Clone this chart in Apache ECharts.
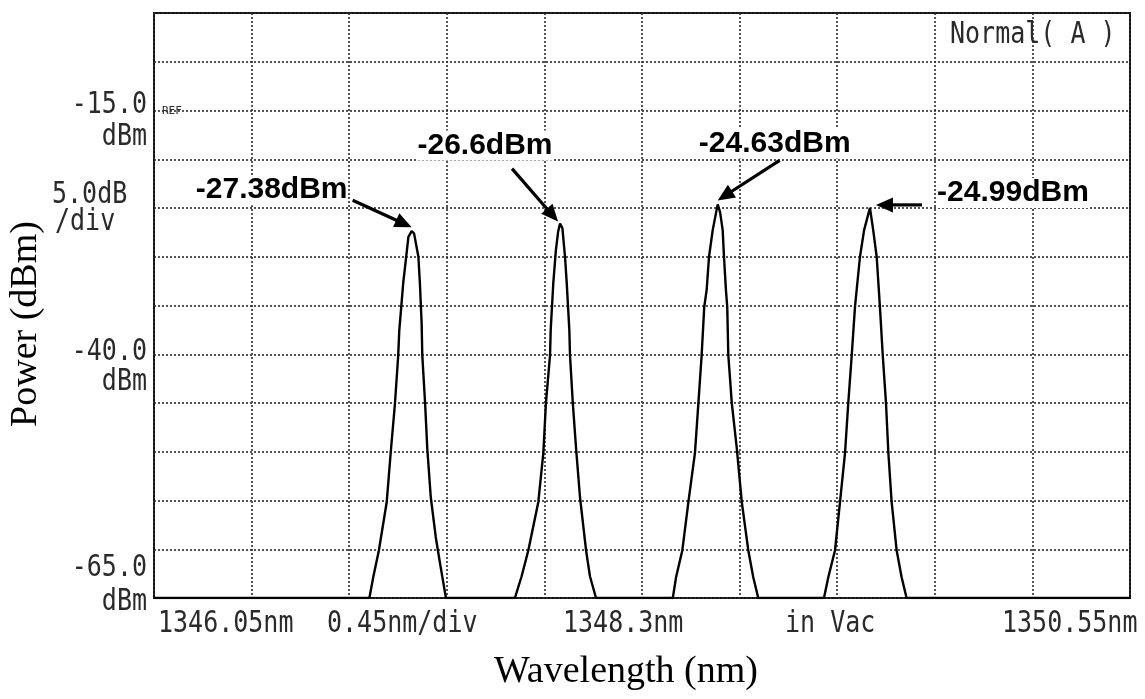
<!DOCTYPE html>
<html>
<head>
<meta charset="utf-8">
<script src="https://cdn.jsdelivr.net/npm/echarts@6/dist/echarts.min.js"></script>
<style>
  html, body { margin: 0; padding: 0; background: #fff; }
  #chart { width: 1145px; height: 699px; }
</style>
</head>
<body>
<div id="chart"></div>
<script>
// Span of the spectrum sweep (nm) and power scale (dBm)
const wavelengthStart = 1346.05;
const wavelengthStop = 1350.55;
const wavelengthStep = 0.45;
const powerTop = -5;
const powerBottom = -65;
const powerStep = 5;

// Four laser lines, sampled along each flank
const peak1Wavelength = [1347.043, 1347.061, 1347.087, 1347.123, 1347.141, 1347.161, 1347.176, 1347.181, 1347.190, 1347.199, 1347.211, 1347.223, 1347.238, 1347.249, 1347.269, 1347.276, 1347.284, 1347.287, 1347.300, 1347.310, 1347.326, 1347.349, 1347.369, 1347.396];
const peak1Power = [-65, -62.85, -60.1, -55.15, -50.18, -45.05, -40.1, -37.53, -35.14, -32.71, -30.35, -27.96, -27.38, -27.6, -30.0, -32.74, -36.84, -40.1, -45.05, -49.67, -54.64, -58.74, -61.47, -65];

const peak2Wavelength = [1347.714, 1347.745, 1347.776, 1347.822, 1347.845, 1347.857, 1347.876, 1347.879, 1347.891, 1347.903, 1347.913, 1347.922, 1347.933, 1347.945, 1347.953, 1347.965, 1347.968, 1347.981, 1347.996, 1348.014, 1348.042, 1348.060, 1348.088];
const peak2Power = [-65, -62.77, -60.1, -55.15, -50.15, -45.02, -40.1, -37.53, -32.71, -29.32, -27.47, -26.6, -27.06, -30.0, -32.71, -37.53, -40.1, -45.02, -49.64, -54.64, -60.1, -62.77, -65];

const peak3Wavelength = [1348.442, 1348.457, 1348.486, 1348.514, 1348.544, 1348.560, 1348.575, 1348.587, 1348.598, 1348.609, 1348.626, 1348.649, 1348.660, 1348.672, 1348.678, 1348.687, 1348.693, 1348.698, 1348.714, 1348.737, 1348.760, 1348.790, 1348.813, 1348.836];
const peak3Power = [-65, -62.88, -60.1, -55.15, -50.15, -45.02, -40.1, -35.14, -33.42, -30.0, -27.27, -24.63, -25.42, -27.27, -30.0, -33.42, -35.14, -40.1, -45.02, -49.64, -55.15, -60.1, -62.88, -65];

const peak4Wavelength = [1349.139, 1349.159, 1349.190, 1349.213, 1349.236, 1349.251, 1349.267, 1349.282, 1349.305, 1349.324, 1349.351, 1349.366, 1349.382, 1349.397, 1349.410, 1349.425, 1349.436, 1349.451, 1349.474, 1349.497, 1349.520];
const peak4Power = [-65, -62.88, -60.1, -55.15, -50.15, -45.02, -40.1, -35.14, -30.0, -27.27, -24.99, -27.27, -30.0, -35.14, -40.1, -45.02, -50.15, -55.15, -60.1, -62.88, -65];

// Marker readouts for each peak
const peakWavelength = [1347.238, 1347.922, 1348.649, 1349.351];
const peakPower = [-27.38, -26.6, -24.63, -24.99];

// Instrument screen text
const yScaleLabels = ['-15.0', 'dBm', '5.0dB', '/div', '-40.0', 'dBm', '-65.0', 'dBm'];
const xScaleLabels = ['1346.05nm', '0.45nm/div', '1348.3nm', 'in Vac', '1350.55nm'];
const modeLabel = 'Normal( A )';
const refLabel = 'REF';
const xTitle = 'Wavelength (nm)';
const yTitle = 'Power (dBm)';

// Build the full trace: noise floor at the edges, then each line
const trace = [[wavelengthStart, powerBottom]];
[[peak1Wavelength, peak1Power], [peak2Wavelength, peak2Power],
 [peak3Wavelength, peak3Power], [peak4Wavelength, peak4Power]].forEach(([w, p]) => {
  w.forEach((x, i) => trace.push([x, p[i]]));
});
trace.push([wavelengthStop, powerBottom]);

const chart = echarts.init(document.getElementById('chart'), null, { renderer: 'canvas' });

const gridLine = { show: true, lineStyle: { color: '#2b2b2b', width: 1.6, type: [2, 2] } };

chart.setOption({
  animation: false,
  backgroundColor: '#ffffff',
  grid: { left: 154, top: 13, width: 976, height: 585, show: true, borderColor: '#111', borderWidth: 2, backgroundColor: '#fff' },
  xAxis: {
    type: 'value', min: wavelengthStart, max: wavelengthStop, interval: wavelengthStep,
    axisLine: { show: false }, axisTick: { show: false }, axisLabel: { show: false },
    splitLine: gridLine
  },
  yAxis: {
    type: 'value', min: powerBottom, max: powerTop, interval: powerStep,
    axisLine: { show: false }, axisTick: { show: false }, axisLabel: { show: false },
    splitLine: gridLine
  },
  series: [{
    type: 'line', data: trace, showSymbol: false, symbol: 'none',
    lineStyle: { color: '#000', width: 2.4 }, clip: true, z: 5
  }]
});

// Screen text in the instrument's monospaced style
const mono = 'DejaVu Sans Mono';
const screenColor = '#2a2a2a';
function screenText(text, x, y, align) {
  return {
    type: 'text', x: x, y: y, scaleY: 1.18, originX: 0, originY: 0, z: 10,
    style: { text: text, x: 0, y: 0, font: '25px "' + mono + '"', fill: screenColor, align: align, verticalAlign: 'middle' }
  };
}

const graphics = [];
// y scale captions
const yCaptionPos = [[147, 105, 'right'], [147, 137, 'right'], [52, 195, 'left'], [55, 222, 'left'],
                     [147, 352, 'right'], [147, 382, 'right'], [147, 568, 'right'], [147, 602, 'right']];
yScaleLabels.forEach((t, i) => graphics.push(screenText(t, yCaptionPos[i][0], yCaptionPos[i][1], yCaptionPos[i][2])));
// x scale captions
const xCaptionLeft = [158, 327, 563, 785, 1002];
xScaleLabels.forEach((t, i) => graphics.push(screenText(t, xCaptionLeft[i], 624, 'left')));
graphics.push(screenText(modeLabel, 950, 35, 'left'));
graphics.push({ type: 'text', x: 162, y: 111, z: 10,
  style: { text: refLabel, font: '11px "' + mono + '"', fill: screenColor, align: 'left', verticalAlign: 'middle' } });

// Axis titles
graphics.push({ type: 'text', x: 626, y: 672, z: 10,
  style: { text: xTitle, font: '38px "Liberation Serif"', fill: '#000', align: 'center', verticalAlign: 'middle' } });
graphics.push({ type: 'text', x: 26, y: 324, rotation: Math.PI / 2, z: 10,
  style: { text: yTitle, font: '38px "Liberation Serif"', fill: '#000', align: 'center', verticalAlign: 'middle' } });

// Peak readouts with arrows pointing at each maximum
const arrowTail = [[-59, -31], [-48, -55], [62, -44], [52, -3]];
const arrowTip = [[0, -4], [-2, -2], [0, -4], [6, -3]];
const labelOffset = [[-140, -41], [-75, -78], [57, -61], [143, -15]];
peakPower.forEach((p, i) => {
  const pk = chart.convertToPixel({ gridIndex: 0 }, [peakWavelength[i], p]);
  const tx = pk[0] + arrowTail[i][0], ty = pk[1] + arrowTail[i][1];
  const hx = pk[0] + arrowTip[i][0], hy = pk[1] + arrowTip[i][1];
  const dx = hx - tx, dy = hy - ty, len = Math.hypot(dx, dy);
  const ux = dx / len, uy = dy / len;
  const headLen = 17, headHalf = 7.5;
  const bx = hx - ux * headLen, by = hy - uy * headLen;
  graphics.push({ type: 'line', z: 11,
    shape: { x1: tx, y1: ty, x2: bx + ux * 2, y2: by + uy * 2 },
    style: { stroke: '#000', lineWidth: 3.2 } });
  graphics.push({ type: 'polygon', z: 11,
    shape: { points: [[hx, hy], [bx - uy * headHalf, by + ux * headHalf], [bx + uy * headHalf, by - ux * headHalf]] },
    style: { fill: '#000' } });
  graphics.push({ type: 'text', x: pk[0] + labelOffset[i][0], y: pk[1] + labelOffset[i][1], z: 12,
    style: { text: String(p) + 'dBm', font: 'bold 30px "Liberation Sans"', fill: '#000',
             align: 'center', verticalAlign: 'middle', backgroundColor: '#fff' } });
});

chart.setOption({ graphic: graphics });
</script>
</body>
</html>
